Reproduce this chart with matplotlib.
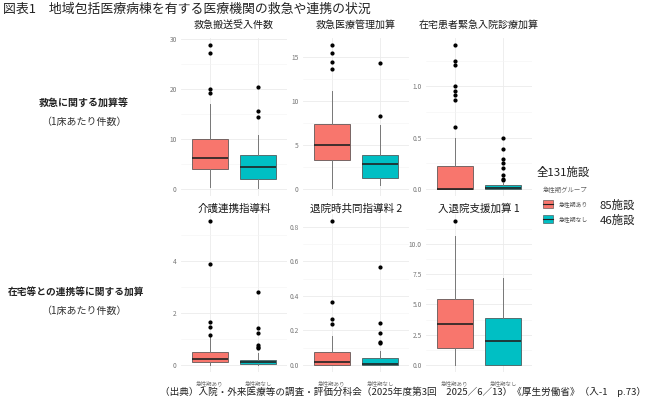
import matplotlib.pyplot as plt
from matplotlib.ticker import MultipleLocator, FormatStrFormatter
from matplotlib.patches import Rectangle

plt.rcParams['font.family'] = ['Noto Sans CJK JP', 'DejaVu Sans']

# Panel titles (facets)
panel_titles = ["救急搬送受入件数", "救急医療管理加算", "在宅患者緊急入院診療加算",
                "介護連携指導料", "退院時共同指導料 2", "入退院支援加算 1"]
groups = ["急性期あり", "急性期なし"]
group_counts = ["85施設", "46施設"]

# Box statistics: 急性期あり
ari_q1 = [4.0, 3.3, 0.0, 0.12, 0.0, 1.43]
ari_med = [6.2, 5.0, 0.0, 0.22, 0.014, 3.42]
ari_q3 = [10.0, 7.4, 0.22, 0.5, 0.072, 5.49]
ari_lo = [0.3, 0.1, 0.0, 0.0, 0.0, 0.0]
ari_hi = [17.0, 11.2, 0.5, 1.09, 0.17, 10.67]
ari_out = [[28.8, 27.3, 20.0, 19.3],
           [16.4, 15.5, 14.5, 13.7],
           [1.40, 1.25, 1.21, 1.0, 0.95, 0.91, 0.87, 0.6],
           [5.52, 3.87, 1.64, 1.47, 1.15],
           [0.833, 0.363, 0.265, 0.236],
           [11.9]]

# 急性期なし
nashi_q1 = [1.9, 1.25, 0.0, 0.04, 0.0, 0.0]
nashi_med = [4.4, 2.8, 0.01, 0.09, 0.003, 1.96]
nashi_q3 = [6.7, 3.85, 0.035, 0.2, 0.037, 3.84]
nashi_lo = [0.2, 0.45, 0.0, 0.0, 0.0, 0.0]
nashi_hi = [10.7, 7.3, 0.06, 0.45, 0.081, 7.23]
nashi_out = [[20.5, 15.7, 14.4],
             [14.4, 8.3],
             [0.5, 0.39, 0.29, 0.25, 0.2, 0.13, 0.10, 0.09],
             [2.8, 1.43, 1.21, 0.77, 0.7, 0.63],
             [0.568, 0.24, 0.187, 0.135, 0.128],
             []]

# y tick step and label format per panel
tick_steps = [10, 5, 0.5, 2, 0.2, 2.5]
tick_fmts = ["%d", "%d", "%.1f", "%d", "%.1f", "%.1f"]

colors = ["#F8766D", "#00BFC4"]

W, H = 650, 399
fig = plt.figure(figsize=(W / 100, H / 100), dpi=100)


def px_axes(left, top, width, height):
    return fig.add_axes([left / W, 1 - (top + height) / H, width / W, height / H])


lefts = [181, 303, 426]
tops = [38, 214]
ax_w, ax_h = 106, 158
title_pads = [7, -1.5]
title_sizes = [7.2, 7.6]

for i in range(6):
    row, col = divmod(i, 3)
    ax = px_axes(lefts[col], tops[row], ax_w, ax_h)
    stats = [
        dict(q1=ari_q1[i], med=ari_med[i], q3=ari_q3[i], whislo=ari_lo[i],
             whishi=ari_hi[i], fliers=ari_out[i]),
        dict(q1=nashi_q1[i], med=nashi_med[i], q3=nashi_q3[i], whislo=nashi_lo[i],
             whishi=nashi_hi[i], fliers=nashi_out[i]),
    ]
    bp = ax.bxp(stats, positions=[1, 2], widths=0.75, patch_artist=True,
                boxprops=dict(edgecolor="#444444", linewidth=0.5),
                medianprops=dict(color="#222222", linewidth=1.2),
                whiskerprops=dict(color="#777777", linewidth=0.7),
                capprops=dict(linewidth=0),
                flierprops=dict(marker="o", markerfacecolor="black",
                                markeredgecolor="black", markersize=2.0))
    for patch, c in zip(bp["boxes"], colors):
        patch.set_facecolor(c)

    top_val = max([ari_hi[i], nashi_hi[i]] + ari_out[i] + nashi_out[i])
    pad = top_val * 0.05
    ax.set_ylim(-pad, top_val + pad)
    ax.set_xlim(0.4, 2.6)
    ax.yaxis.set_major_locator(MultipleLocator(tick_steps[i]))
    ax.yaxis.set_minor_locator(MultipleLocator(tick_steps[i] / 2))
    ax.yaxis.set_major_formatter(FormatStrFormatter(tick_fmts[i]))
    ax.set_xticks([1, 2])
    if row == 1:
        ax.set_xticklabels(groups, fontsize=4, color="#777777")
    else:
        ax.set_xticklabels([])
    ax.tick_params(axis="both", which="both", length=0)
    ax.tick_params(axis="x", pad=6)
    ax.tick_params(axis="y", pad=3, labelsize=4.8, labelcolor="#777777")
    ax.grid(True, which="major", color="#EBEBEB", linewidth=0.6)
    ax.grid(True, which="minor", axis="y", color="#F4F4F4", linewidth=0.4)
    ax.set_axisbelow(True)
    for s in ax.spines.values():
        s.set_visible(False)
    ax.set_title(panel_titles[i], fontsize=title_sizes[row], color="#1a1a1a",
                 pad=title_pads[row])

# Main title
fig.text(3 / W, 1 - 9 / H, "図表1　地域包括医療病棟を有する医療機関の救急や連携の状況",
         fontsize=9.3, color="#222222", va="center", ha="left")

# Row labels
fig.text(84 / W, 1 - 104 / H, "救急に関する加算等", fontsize=7.2, fontweight="bold",
         ha="center", va="center", color="#222222")
fig.text(84 / W, 1 - 122 / H, "（1床あたり件数）", fontsize=7.2,
         ha="center", va="center", color="#333333")
fig.text(76 / W, 1 - 292 / H, "在宅等との連携等に関する加算", fontsize=7.0, fontweight="bold",
         ha="center", va="center", color="#222222")
fig.text(84 / W, 1 - 311 / H, "（1床あたり件数）", fontsize=7.2,
         ha="center", va="center", color="#333333")

# Legend
fig.text(537 / W, 1 - 172 / H, "全131施設", fontsize=8.2, ha="left", va="center", color="#222222")
fig.text(543 / W, 1 - 190 / H, "急性期グループ", fontsize=4.6, ha="left", va="center", color="#666666")
for k, (g, n, c) in enumerate(zip(groups, group_counts, colors)):
    y = 204 + k * 15
    fig.patches.append(Rectangle((543 / W, 1 - (y + 4) / H), 10 / W, 8 / H,
                                 transform=fig.transFigure, facecolor=c,
                                 edgecolor="#444444", linewidth=0.4))
    fig.add_artist(plt.Line2D([543 / W, 553 / W], [1 - y / H, 1 - y / H],
                              transform=fig.transFigure, color="#222222", linewidth=0.8))
    fig.text(559 / W, 1 - y / H, g, fontsize=4.2, ha="left", va="center", color="#555555")
    fig.text(600 / W, 1 - (y + 1) / H, n, fontsize=8.2, ha="left", va="center", color="#222222")

# Source
fig.text(646 / W, 1 - 392 / H,
         "（出典）入院・外来医療等の調査・評価分科会（2025年度第3回　2025／6／13）《厚生労働省》（入-1　p.73）",
         fontsize=6.9, ha="right", va="center", color="#222222")

fig.savefig("out.png", dpi=100, facecolor="white")
